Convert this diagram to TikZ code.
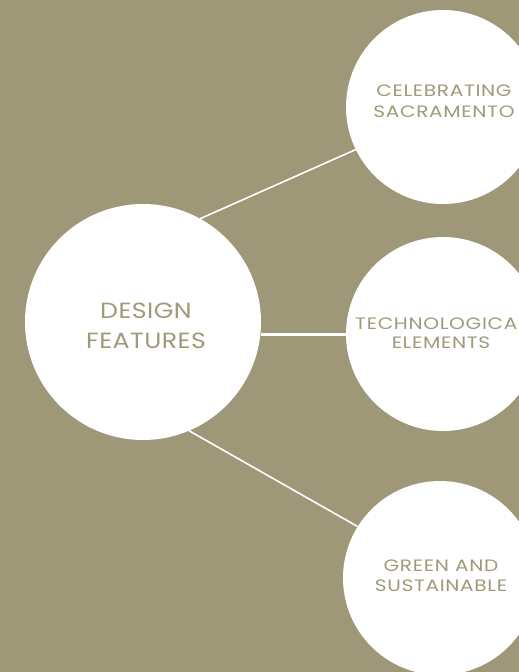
\documentclass[tikz,border=0pt]{standalone}
\usepackage{fontspec}
\setmainfont{Poppins}
\definecolor{olive}{RGB}{158,152,120}
\definecolor{olivetext}{RGB}{160,154,124}
\newfontfamily\smallcaption[FakeStretch=1.22,LetterSpace=4]{Poppins}
\newfontfamily\bigcaption[FakeStretch=1.15,LetterSpace=2]{Poppins}
\begin{document}
\begin{tikzpicture}[x=1pt,y=-1pt,
  bubble/.style={circle, fill=white, inner sep=0pt},
  small/.style={bubble, minimum size=194pt},
  big/.style={bubble, minimum size=236pt},
  caption/.style={inner sep=0pt, text=olivetext, align=center},
  smalltext/.style={caption, font=\smallcaption\fontsize{16.5}{21}\selectfont},
  bigtext/.style={caption, font=\bigcaption\fontsize{22}{30}\selectfont},
  link/.style={draw=white, line width=1.6pt}]
  % page and background
  \fill[olive] (0,0) rectangle (519,672);
  \useasboundingbox (0,0) rectangle (519,672);
  % topic circles
  \node[big] (design) at (143,322) {};
  \node[small] (cele) at (443,107) {};
  \node[small] (tech) at (443,334) {};
  \node[small] (green) at (440,578) {};
  % captions
  \node[bigtext] (designtxt) at (146,325.5) {DESIGN\\FEATURES};
  \node[smalltext] (celetxt) at (444,101.4) {CELEBRATING\\SACRAMENTO};
  \node[smalltext, font=\smallcaption\fontsize{16.5}{19}\selectfont] (techtxt) at (441,333.5) {TECHNOLOGICAL\\ELEMENTS};
  \node[smalltext, font=\smallcaption\fontsize{16.5}{20}\selectfont] (greentxt) at (441,576) {GREEN AND\\SUSTAINABLE};
  % connectors
  \draw[link] (design.61.7) -- (cele.206.6);
  \draw[link] (design.293.3) -- (green.148);
  \draw[link, line width=3pt] (design.-6.6) -- (design.-6.6 -| tech.east);
\end{tikzpicture}
\end{document}
